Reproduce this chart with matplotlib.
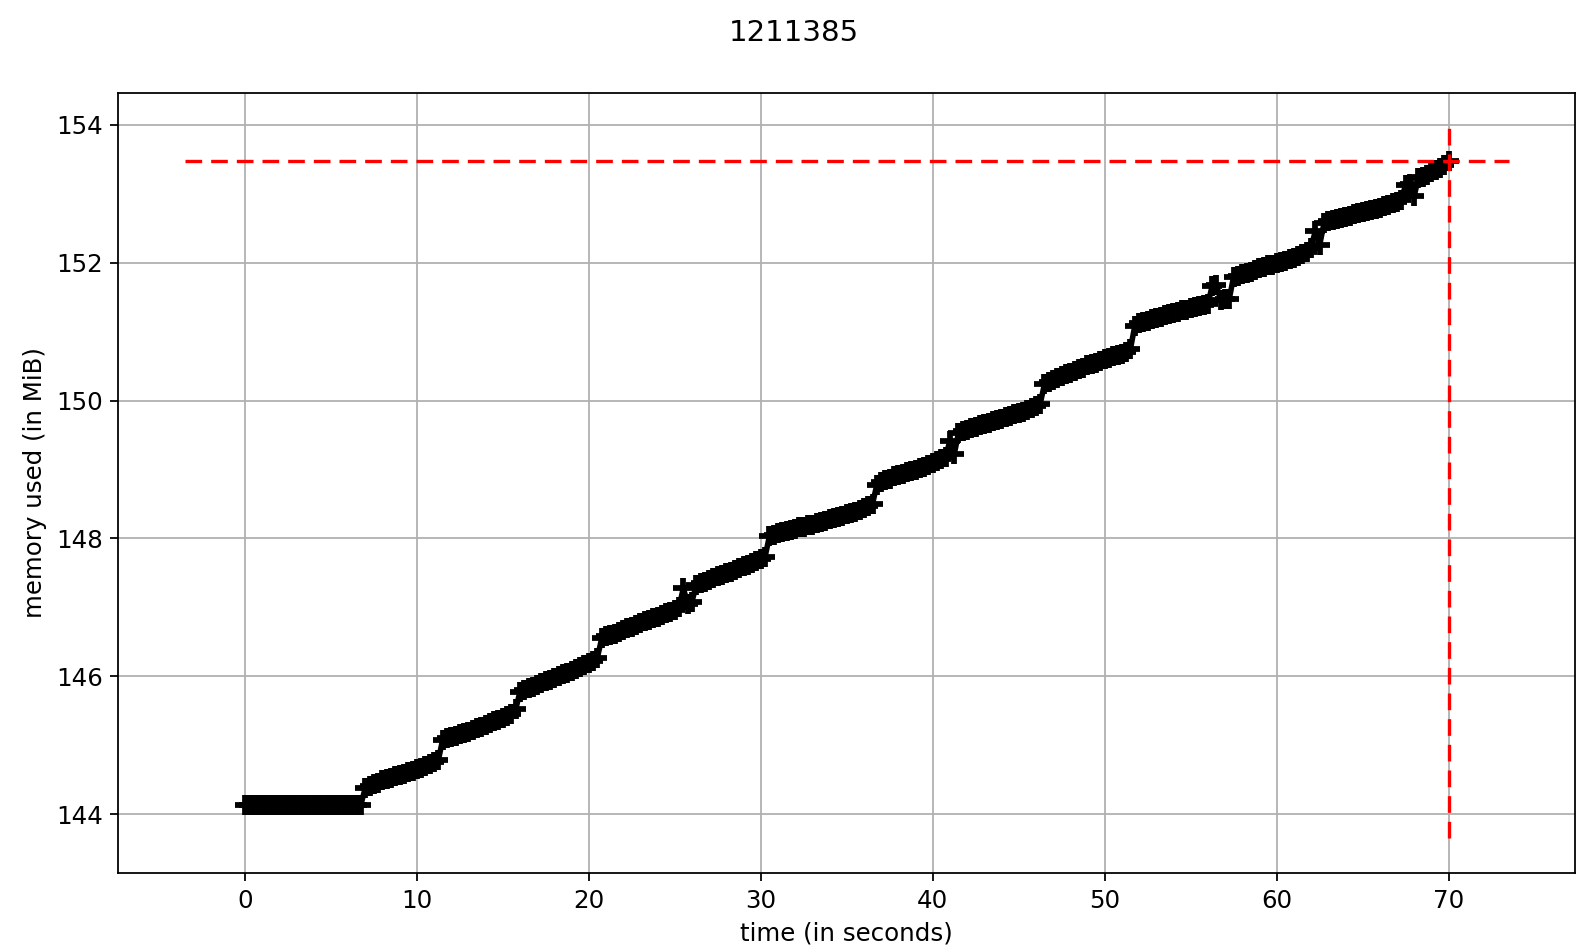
import matplotlib
matplotlib.use("Agg")
import matplotlib.pyplot as plt
import numpy as np

title = "1211385"
sample_step = 0.25  # seconds between readings

# memory readings (MiB), one row per second, 4 readings per row
mem_mib = np.array([
    144.13, 144.13, 144.13, 144.13,  # 0
    144.13, 144.13, 144.13, 144.13,  # 1
    144.13, 144.13, 144.13, 144.13,  # 2
    144.13, 144.13, 144.13, 144.13,  # 3
    144.13, 144.13, 144.13, 144.13,  # 4
    144.13, 144.13, 144.13, 144.13,  # 5
    144.13, 144.13, 144.13, 144.14,  # 6
    144.38, 144.41, 144.44, 144.46,  # 7
    144.49, 144.51, 144.53, 144.55,  # 8
    144.57, 144.59, 144.61, 144.63,  # 9
    144.65, 144.67, 144.70, 144.73,  # 10
    144.76, 144.78, 145.08, 145.10,  # 11
    145.12, 145.14, 145.16, 145.18,  # 12
    145.20, 145.22, 145.25, 145.27,  # 13
    145.30, 145.32, 145.35, 145.37,  # 14
    145.40, 145.43, 145.46, 145.52,  # 15
    145.78, 145.80, 145.83, 145.85,  # 16
    145.88, 145.90, 145.93, 145.95,  # 17
    145.98, 146.00, 146.03, 146.05,  # 18
    146.08, 146.11, 146.14, 146.17,  # 19
    146.20, 146.22, 146.27, 146.55,  # 20
    146.58, 146.60, 146.62, 146.64,  # 21
    146.67, 146.70, 146.72, 146.75,  # 22
    146.78, 146.80, 146.82, 146.84,  # 23
    146.86, 146.89, 146.92, 146.94,  # 24
    146.97, 147.01, 147.28, 147.05,  # 25
    147.08, 147.33, 147.35, 147.37,  # 26
    147.40, 147.42, 147.45, 147.47,  # 27
    147.50, 147.52, 147.55, 147.57,  # 28
    147.60, 147.62, 147.65, 147.67,  # 29
    147.70, 147.73, 148.03, 148.05,  # 30
    148.08, 148.09, 148.11, 148.12,  # 31
    148.14, 148.16, 148.17, 148.19,  # 32
    148.20, 148.22, 148.24, 148.26,  # 33
    148.28, 148.30, 148.31, 148.33,  # 34
    148.35, 148.37, 148.39, 148.41,  # 35
    148.44, 148.47, 148.50, 148.78,  # 36
    148.82, 148.85, 148.87, 148.90,  # 37
    148.92, 148.94, 148.96, 148.98,  # 38
    149.00, 149.02, 149.04, 149.06,  # 39
    149.09, 149.12, 149.15, 149.18,  # 40
    149.42, 149.22, 149.53, 149.56,  # 41
    149.58, 149.60, 149.62, 149.64,  # 42
    149.66, 149.68, 149.70, 149.72,  # 43
    149.74, 149.76, 149.78, 149.80,  # 44
    149.82, 149.84, 149.86, 149.89,  # 45
    149.92, 149.95, 150.24, 150.27,  # 46
    150.30, 150.33, 150.36, 150.38,  # 47
    150.40, 150.43, 150.46, 150.48,  # 48
    150.51, 150.53, 150.55, 150.57,  # 49
    150.60, 150.62, 150.64, 150.66,  # 50
    150.68, 150.71, 150.75, 151.08,  # 51
    151.12, 151.14, 151.16, 151.18,  # 52
    151.20, 151.22, 151.24, 151.25,  # 53
    151.27, 151.29, 151.31, 151.32,  # 54
    151.34, 151.36, 151.37, 151.39,  # 55
    151.40, 151.66, 151.67, 151.46,  # 56
    151.47, 151.48, 151.80, 151.81,  # 57
    151.83, 151.85, 151.87, 151.90,  # 58
    151.92, 151.94, 151.96, 151.97,  # 59
    151.99, 152.01, 152.03, 152.05,  # 60
    152.07, 152.10, 152.12, 152.15,  # 61
    152.22, 152.46, 152.25, 152.57,  # 62
    152.60, 152.62, 152.63, 152.65,  # 63
    152.67, 152.68, 152.70, 152.72,  # 64
    152.74, 152.75, 152.77, 152.78,  # 65
    152.80, 152.82, 152.84, 152.86,  # 66
    152.88, 152.91, 153.13, 153.14,  # 67
    152.97, 153.23, 153.25, 153.27,  # 68
    153.31, 153.34, 153.38, 153.42,  # 69
    153.48,                          # 70
])
time_s = np.arange(len(mem_mib)) * sample_step

plt.rcParams["font.size"] = 11

fig = plt.figure(figsize=(9.925, 5.95), dpi=160)
ax = fig.add_axes([0.0746, 0.083, 0.9172, 0.8193])

ax.plot(time_s, mem_mib, "+-k", markersize=9, markeredgewidth=2.6, linewidth=2.5)

# max memory marker lines, spanning the data limits
xlim = ax.get_xlim()
ylim = ax.get_ylim()
imax = np.argmax(mem_mib)
dash = (0, (5, 2.7))
ax.hlines(mem_mib[imax], xlim[0], xlim[1], colors="r", linestyles=[dash], linewidth=1.5)
ax.vlines(time_s[imax], ylim[0], ylim[1], colors="r", linestyles=[dash], linewidth=1.5)

ax.set_xlabel("time (in seconds)")
ax.set_ylabel("memory used (in MiB)")
ax.grid(True)
fig.suptitle(title)

fig.savefig("out.png", dpi=160)
